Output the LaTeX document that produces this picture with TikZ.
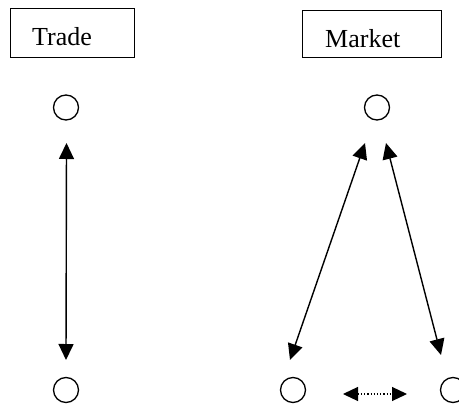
\documentclass[tikz,border=0pt]{standalone}
\usepackage{fontspec}
\setmainfont{Liberation Serif}
\usetikzlibrary{arrows.meta,calc}
\tikzset{
  titlebox/.style={draw, line width=1.2pt, rectangle, anchor=north west, inner sep=0pt},
  lbl/.style={anchor=base west, inner sep=0pt, font=\fontsize{26}{30}\selectfont},
  dot/.style={draw, circle, line width=1.3pt, minimum size=25pt, inner sep=0pt},
  link/.style={line width=1.4pt, {Triangle[length=16pt,width=15pt]}-{Triangle[length=16pt,width=15pt]}},
  dlink/.style={line width=1.2pt, dotted, {Triangle[length=15pt,width=14pt]}-{Triangle[length=15pt,width=14pt]}}
}
\begin{document}
\begin{tikzpicture}[x=1pt,y=-1pt]
\useasboundingbox (0,0) rectangle (459,405);
% title boxes
\node[titlebox, minimum width=124pt, minimum height=49pt] (tradebox) at (10,8) {};
\node[lbl] (trade) at (32,45) {Trade};
\node[titlebox, minimum width=139pt, minimum height=47pt] (marketbox) at (302,10) {};
\node[lbl] (market) at (325,47) {Market};
% circles
\node[dot] (tt) at (66,107.5) {};
\node[dot] (tb) at (66,390) {};
\node[dot] (mt) at (377,107.5) {};
\node[dot] (ml) at (293,390) {};
\node[dot] (mr) at (453,390) {};
% connector end points
\coordinate (t1) at ($(tt.center)+(0.5,35.5)$);
\coordinate (t2) at ($(tb.center)+(0,-30)$);
\coordinate (m1) at ($(mt.center)+(-12,35.5)$);
\coordinate (m2) at ($(ml.center)+(-3,-30)$);
\coordinate (m3) at ($(mt.center)+(9,35.5)$);
\coordinate (m4) at ($(mr.center)+(-12,-35)$);
\coordinate (d1) at ($(ml.center)+(50,4)$);
\coordinate (d2) at ($(mr.center)+(-46,4)$);
% connectors
\draw[link] (t1) -- (t2);
\draw[link] (m1) -- (m2);
\draw[link] (m3) -- (m4);
\draw[dlink] (d1) -- (d2);
\end{tikzpicture}
\end{document}
